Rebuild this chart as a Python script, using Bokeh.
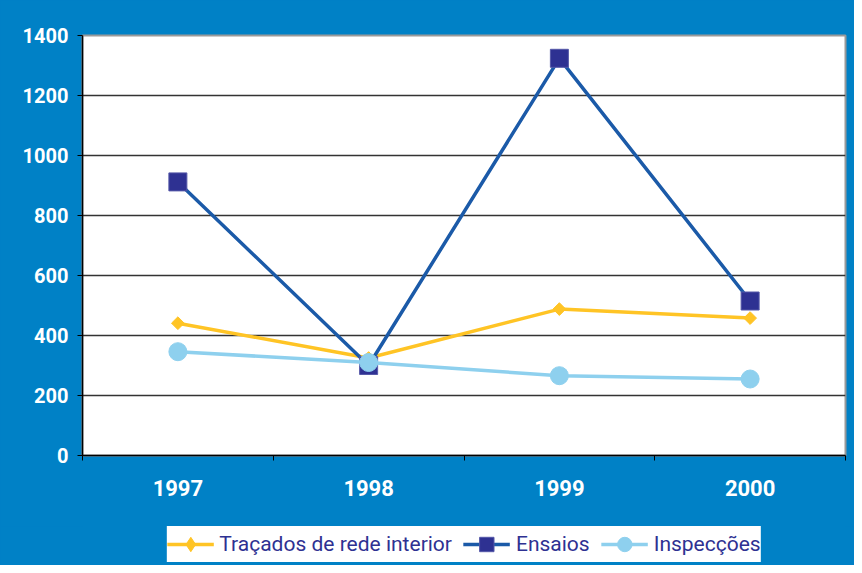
import math
from bokeh.plotting import figure
from bokeh.layouts import column
from bokeh.models import FixedTicker, Legend, LegendItem, Range1d
from bokeh.embed import file_html
from bokeh.resources import INLINE

years = ["1997", "1998", "1999", "2000"]
tracados = [441, 325, 488, 458]
ensaios = [912, 300, 1324, 515]
inspeccoes = [346, 310, 266, 255]
y_ticks = [0, 200, 400, 600, 800, 1000, 1200, 1400]
series_names = ["Traçados de rede interior", "Ensaios", "Inspecções"]

BLUE_BG = "#0081C6"
C_TRAC = "#FFC425"
C_ENS_LINE = "#1B5AA8"
C_ENS_MARK = "#2E3192"
C_INSP = "#8ED0EE"
x = [i + 0.5 for i in range(len(years))]

BL, BR = 82, 9

p = figure(width=854, height=526, output_backend="svg", toolbar_location=None,
           x_range=Range1d(0, len(years)), y_range=Range1d(0, 1400),
           min_border_left=BL, min_border_right=BR, min_border_top=35,
           min_border_bottom=71)
p.border_fill_color = BLUE_BG
p.background_fill_color = "white"
p.outline_line_color = "#9a9a9a"
p.outline_line_width = 2

p.xgrid.grid_line_color = None
p.ygrid.grid_line_color = "#333333"
p.ygrid.grid_line_width = 1.5
p.ygrid.ticker = FixedTicker(ticks=y_ticks)

xa = p.xaxis[0]
xa.ticker = FixedTicker(ticks=x, minor_ticks=list(range(len(years) + 1)))
xa.major_label_overrides = {xi: y for xi, y in zip(x, years)}
xa.major_tick_line_color = None
xa.minor_tick_line_color = "black"
xa.minor_tick_out = 5
xa.minor_tick_in = 0
xa.axis_line_color = "black"
xa.axis_line_width = 1.5
xa.major_label_text_color = "white"
xa.major_label_text_font = "Roboto"
xa.major_label_text_font_style = "bold"
xa.major_label_text_font_size = "22px"
xa.major_label_standoff = 18

ya = p.yaxis[0]
ya.ticker = FixedTicker(ticks=y_ticks)
ya.minor_tick_line_color = None
ya.major_tick_out = 5
ya.major_tick_in = 0
ya.major_tick_line_color = "black"
ya.axis_line_color = "black"
ya.axis_line_width = 1.5
ya.major_label_text_color = "white"
ya.major_label_text_font = "Roboto"
ya.major_label_text_font_style = "bold"
ya.major_label_text_font_size = "20px"
ya.major_label_standoff = 9

def draw_series(fig, xs, legend_copy=False):
    r = []
    r.append(fig.line(xs, tracados, line_color=C_TRAC, line_width=3.5))
    if legend_copy:
        r.append(fig.scatter(xs, tracados, marker="diamond", size=12,
                             fill_color=C_TRAC, line_color=C_TRAC))
    else:
        r.append(fig.scatter(xs, tracados, marker="square", angle=math.pi / 4,
                             size=9, fill_color=C_TRAC, line_color=C_TRAC))
    r.append(fig.line(xs, ensaios, line_color=C_ENS_LINE, line_width=3.5))
    r.append(fig.scatter(xs, ensaios, marker="square", size=18,
                         fill_color=C_ENS_MARK, line_color="#5558A8", line_width=1))
    r.append(fig.line(xs, inspeccoes, line_color=C_INSP, line_width=3.5))
    r.append(fig.scatter(xs, inspeccoes, marker="circle", size=18,
                         fill_color=C_INSP, line_color=C_INSP))
    return r

draw_series(p, x)

# legend strip: a second figure under the chart; its copies of the series
# lie outside its view, so only the legend shows
q = figure(width=854, height=39, output_backend="svg", toolbar_location=None,
           x_axis_type=None, y_axis_type=None,
           x_range=Range1d(0, len(years)), y_range=Range1d(-2, -1),
           min_border_left=BL, min_border_right=BR, min_border_top=0,
           min_border_bottom=0)
q.border_fill_color = BLUE_BG
q.background_fill_color = None
q.outline_line_color = None
q.xgrid.visible = False
q.ygrid.visible = False
lr = draw_series(q, x, legend_copy=True)

legend = Legend(items=[
    LegendItem(label=series_names[0], renderers=[lr[0], lr[1]]),
    LegendItem(label=series_names[1], renderers=[lr[2], lr[3]]),
    LegendItem(label=series_names[2], renderers=[lr[4], lr[5]]),
], orientation="horizontal", location="top_center")
legend.background_fill_color = "white"
legend.background_fill_alpha = 1
legend.border_line_color = None
legend.label_text_font = "Roboto"
legend.label_text_font_size = "21px"
legend.label_text_color = C_ENS_MARK
legend.glyph_width = 47
legend.glyph_height = 36
legend.label_standoff = 6
legend.spacing = 11
legend.padding = 6
legend.margin = 0
q.add_layout(legend, "center")

layout = column(p, q, spacing=0, styles={"background-color": BLUE_BG})
open("out.html", "w").write(file_html(layout, INLINE))
